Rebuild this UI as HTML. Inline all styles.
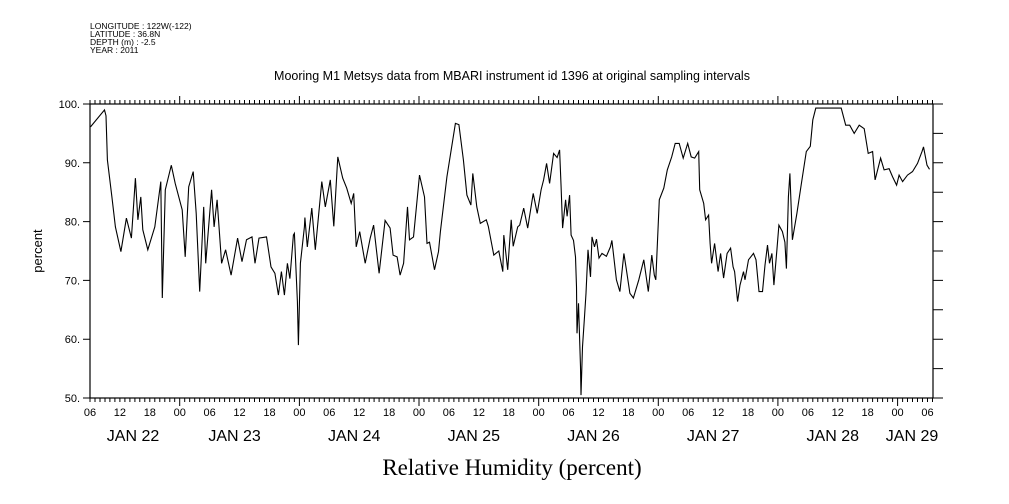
<!DOCTYPE html>
<html><head><meta charset="utf-8"><style>
html,body{margin:0;padding:0;background:#fff;}
svg{display:block;font-family:"Liberation Sans",sans-serif;}
</style></head><body>
<svg id="chart" width="1009" height="504" viewBox="0 0 1009 504" xmlns="http://www.w3.org/2000/svg">
<g font-size="8.5" fill="#000">
<text x="90" y="29">LONGITUDE : 122W(-122)</text>
<text x="90" y="37">LATITUDE : 36.8N</text>
<text x="90" y="45">DEPTH (m) : -2.5</text>
<text x="90" y="53">YEAR : 2011</text>
</g>
<text x="512" y="80" text-anchor="middle" font-size="12.5">Mooring M1 Metsys data from MBARI instrument id 1396 at original sampling intervals</text>
<text transform="translate(42,251) rotate(-90)" text-anchor="middle" font-size="13">percent</text>
<text x="512" y="475" text-anchor="middle" font-size="23" font-family="Liberation Serif, serif">Relative Humidity (percent)</text>
<g id="axes"></g>
<g id="series"></g>
</svg>
<script>
const hours = [0.1,2.9,3.2,3.5,4.4,5.1,6.2,7.3,8.3,9.1,9.6,10.2,10.6,11.6,13,14.2,14.5,15.1,16.3,17.1,18.5,19.1,19.8,20.7,21.3,22,22.8,23.2,24.4,24.9,25.5,26.4,27.2,28.3,29.6,30.5,31.4,32.5,33.1,33.9,35.4,36.3,37.1,37.8,38.4,39,39.6,40.1,40.8,41,41.6,41.8,42.2,43,43.1,43.6,44.5,45.2,46.5,47.2,48.2,48.9,49.7,50.7,51.5,52.4,52.9,53.4,54.1,55.2,56.2,56.9,58,59.2,60.2,60.8,61.6,62.2,62.9,63.7,64.1,64.9,66.1,67.1,67.6,68.1,69.1,69.9,70.3,71.6,73.3,74,74.9,75.6,76.4,76.8,77.6,78.3,79.5,79.9,81,82,82.8,83,83.8,84.5,84.9,85.8,86.2,87,87.8,88.9,89.7,90.5,91,91.6,92.2,93,93.7,94.2,94.5,94.8,95.4,95.7,96.2,96.5,97,97.4,97.6,97.7,98,98.4,98.5,98.8,99.2,99.5,99.9,100.4,100.7,101.2,101.6,102.1,102.7,103.6,104.4,104.7,105.6,106.3,107.1,107.6,108.3,109,110.1,111.1,112,112.7,113.2,113.5,114.2,115.1,115.8,116.7,117.4,118.2,119,119.9,120.6,121.3,122.1,122.3,123.1,123.5,124.1,124.4,124.7,125.3,126,126.5,127.1,127.8,128.5,129,129.3,129.9,130.4,131.1,131.4,132.1,133.1,133.6,134.2,134.9,135.4,135.9,136.3,136.8,137.2,137.8,138.2,138.9,139.4,139.7,140.1,140.4,140.9,141.8,142.7,143.7,144.5,145,145.6,150.7,151.6,152.4,153.3,154.3,155.3,156.1,157,157.5,158.6,159.3,160.3,161,161.8,162.3,163,164,165,166,166.9,167.2,167.9,168.4];
const humidity = [96.1,99,98,90.5,84.2,79.1,74.9,80.6,77.2,87.4,80.3,84.2,78.6,75.2,79.1,86.8,67,85.4,89.6,86.5,82,74,85.9,88.5,81.4,68.1,82.5,72.9,85.4,79.1,83.7,72.9,75.2,70.9,77.2,73.2,76.9,77.4,72.9,77.2,77.4,72.3,71.2,67.5,71.5,67.5,72.9,70.3,77.7,78,66.4,59,72.9,79.1,80.7,75.7,82.3,75.2,86.8,82.5,87.1,79.2,91,87.4,85.7,83.1,84.8,75.7,78.3,72.9,77.2,79.4,71.2,80.2,78.9,74.3,74,70.9,72.9,82.5,76.9,77.4,87.9,84.2,76.3,76.5,71.8,74.9,78.3,87.6,96.7,96.5,90.5,84.5,82.8,88.2,82.5,79.7,80.3,79.2,74.3,75,71.5,77.7,71.8,80.3,75.8,79.1,79.4,82.3,78.9,84.8,81.4,85.4,87.1,89.9,86.5,91.6,90.9,92.2,85.9,78.9,83.7,80.9,84.5,77.7,76.8,74,68.9,61,66.1,55.3,50.5,58.7,63.8,67.8,75.2,70.6,77.4,75.7,77,73.8,74.6,74.1,75.7,76.8,70.1,68.1,74.6,71.8,67.8,67,70.1,73.5,68.1,74.3,70.9,70.1,83.7,85.7,88.8,91,93.3,93.3,90.8,93.3,91,90.8,91.9,85.4,83.1,80.3,81.1,76.3,72.9,76.3,71.5,74.6,70.4,74.6,75.5,72.3,71.5,66.4,69.2,71.5,70.1,73.5,74.6,73.5,68.1,68.1,72.6,76,72.9,74.6,69.2,75.2,79.4,78.3,76.5,72,84.2,88.2,76.9,81.4,86.5,91.9,92.8,97.3,99.3,99.3,96.4,96.4,95,96.4,95.8,91.6,91.9,87.1,90.8,88.8,89,87.6,86.2,87.9,86.8,87.9,88.5,89.9,91.9,92.7,89.6,88.9];
const yTickValues = [50,60,70,80,90,100];
const yTickLabels = ["50.","60.","70.","80.","90.","100."];
const hourLabels = ["06","12","18","00"];
const dayLabels = ["JAN 22","JAN 23","JAN 24","JAN 25","JAN 26","JAN 27","JAN 28","JAN 29"];

const X0=90, PXH=4.985, XR=933, YT=104, YB=398;
const xs = h => X0 + h*PXH;
const ys = v => YB - (v-50)*(YB-YT)/50;
const NS="http://www.w3.org/2000/svg";
const axes=document.getElementById('axes');
function mk(tag, attrs, parent){const e=document.createElementNS(NS,tag);for(const k in attrs)e.setAttribute(k,attrs[k]);parent.appendChild(e);return e;}

const frame=mk('rect',{x:X0,y:YT,width:XR-X0,height:YB-YT,fill:'none',stroke:'#000','stroke-width':1.2},axes);



let d='';
for(let h=0;h*PXH+X0<=XR+0.5;h++){
  const x=xs(h).toFixed(1);
  const major=((h+6)%24===0);
  const len=major?8:4;
  d+=`M${x} ${YB}V${YB+len}M${x} ${YT}V${YT-len}`;
}
for(let v=50;v<=100;v+=5){d+=`M${XR} ${ys(v)}H${XR+10}`;}
yTickValues.forEach(v=>{d+=`M${X0-7} ${ys(v)}H${X0}`;});
const ticks=mk('path',{d:d,stroke:'#000','stroke-width':1,fill:'none'},axes);



yTickValues.forEach((v,i)=>{
  const t=mk('text',{x:X0-10,y:ys(v)+4,'text-anchor':'end','font-size':11},axes);
  t.textContent=yTickLabels[i];
  
  
});
for(let k=0;k*6<=168;k++){
  const t=mk('text',{x:xs(k*6),y:416,'text-anchor':'middle','font-size':11},axes);
  t.textContent=hourLabels[k%4];
  
  
}
dayLabels.forEach((lab,i)=>{
  let x = xs(29+24*(i-1));
  if(i===0) x=133;
  if(i===dayLabels.length-1) x=912;
  const t=mk('text',{x:x,y:441,'text-anchor':'middle','font-size':16},axes);
  t.textContent=lab;
  
  
});

const pts=hours.map((h,i)=>xs(h).toFixed(1)+','+ys(humidity[i]).toFixed(1)).join(' ');
const line=mk('polyline',{points:pts,fill:'none',stroke:'#000','stroke-width':1.1,'stroke-linejoin':'miter'},document.getElementById('series'));


</script>
</body></html>
